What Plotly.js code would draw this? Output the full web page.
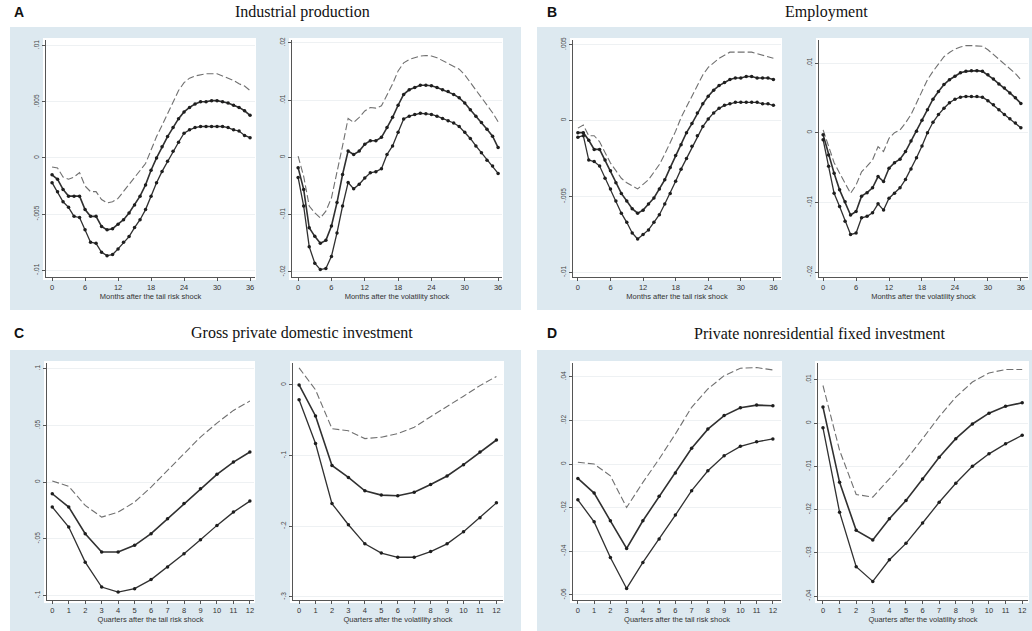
<!DOCTYPE html>
<html>
<head>
<meta charset="utf-8">
<script src="https://cdn.plot.ly/plotly-3.0.1.min.js"></script>
<style>html,body{margin:0;padding:0;background:#fff;}#chart{width:1032px;height:631px;}</style>
</head>
<body>
<div id="chart"></div>
<script>
// ---------- categories ----------
const months = [0,1,2,3,4,5,6,7,8,9,10,11,12,13,14,15,16,17,18,19,20,21,22,23,24,25,26,27,28,29,30,31,32,33,34,35,36];
const quarters = [0,1,2,3,4,5,6,7,8,9,10,11,12];
const monthTicks = [0,6,12,18,24,30,36];
const quarterTicks = [0,1,2,3,4,5,6,7,8,9,10,11,12];

const panelLetters = ["A","B","C","D"];
const panelTitles = ["Industrial production","Employment","Gross private domestic investment","Private nonresidential fixed investment"];
const xTitles = ["Months after the tail risk shock","Months after the volatility shock","Quarters after the tail risk shock","Quarters after the volatility shock"];

// ---------- y tick labels ----------
const ticksA1 = [0.01,0.005,0,-0.005,-0.01];
const labelsA1 = [".01",".005","0","-.005","-.01"];
const ticksA2 = [0.02,0.01,0,-0.01,-0.02];
const labelsA2 = [".02",".01","0","-.01","-.02"];
const ticksB1 = [0.005,0,-0.005,-0.01];
const labelsB1 = [".005","0","-.005","-.01"];
const ticksB2 = [0.01,0,-0.01,-0.02];
const labelsB2 = [".01","0","-.01","-.02"];
const ticksC1 = [0.1,0.05,0,-0.05,-0.1];
const labelsC1 = [".1",".05","0","-.05","-.1"];
const ticksC2 = [0,-0.1,-0.2,-0.3];
const labelsC2 = ["0","-.1","-.2","-.3"];
const ticksD1 = [0.04,0.02,0,-0.02,-0.04,-0.06];
const labelsD1 = [".04",".02","0","-.02","-.04","-.06"];
const ticksD2 = [0.01,0,-0.01,-0.02,-0.03,-0.04];
const labelsD2 = [".01","0","-.01","-.02","-.03","-.04"];

// ---------- A: Industrial production, tail risk shock ----------
const ipTailUpper = [-0.0008,-0.0009,-0.0017,-0.0019,-0.0017,-0.0013,-0.0025,-0.0030,-0.0030,-0.0037,-0.0040,-0.0039,-0.0036,-0.0030,-0.0024,-0.0018,-0.0012,-0.0005,0.0007,0.0019,0.0029,0.0039,0.0050,0.0060,0.0067,0.0071,0.0073,0.0074,0.0075,0.0075,0.0075,0.0073,0.0071,0.0069,0.0066,0.0064,0.0060];
const ipTailMid = [-0.0015,-0.0019,-0.0028,-0.0034,-0.0034,-0.0034,-0.0046,-0.0052,-0.0052,-0.0061,-0.0064,-0.0063,-0.0059,-0.0055,-0.0049,-0.0042,-0.0034,-0.0024,-0.0011,0.0000,0.0010,0.0019,0.0027,0.0035,0.0041,0.0045,0.0048,0.0050,0.0050,0.0051,0.0051,0.0050,0.0049,0.0047,0.0045,0.0042,0.0038];
const ipTailLower = [-0.0022,-0.0030,-0.0039,-0.0044,-0.0052,-0.0053,-0.0064,-0.0075,-0.0076,-0.0084,-0.0087,-0.0086,-0.0081,-0.0075,-0.0070,-0.0062,-0.0055,-0.0046,-0.0034,-0.0022,-0.0012,-0.0003,0.0006,0.0014,0.0022,0.0025,0.0027,0.0028,0.0028,0.0028,0.0028,0.0028,0.0027,0.0025,0.0024,0.0020,0.0018];

// ---------- A: Industrial production, volatility shock ----------
const ipVolUpper = [0.0002,-0.0033,-0.0085,-0.0097,-0.0106,-0.0094,-0.0071,-0.0027,0.0020,0.0068,0.0061,0.0070,0.0081,0.0087,0.0086,0.0090,0.0108,0.0128,0.0151,0.0165,0.0171,0.0174,0.0177,0.0178,0.0177,0.0174,0.0169,0.0165,0.0160,0.0154,0.0144,0.0131,0.0118,0.0105,0.0091,0.0078,0.0062];
const ipVolMid = [-0.0018,-0.0056,-0.0123,-0.0138,-0.0150,-0.0145,-0.0120,-0.0079,-0.0030,0.0011,0.0005,0.0011,0.0023,0.0029,0.0029,0.0035,0.0052,0.0070,0.0091,0.0110,0.0118,0.0122,0.0126,0.0126,0.0125,0.0122,0.0118,0.0115,0.0110,0.0104,0.0095,0.0083,0.0072,0.0061,0.0049,0.0037,0.0017];
const ipVolLower = [-0.0035,-0.0085,-0.0156,-0.0185,-0.0196,-0.0194,-0.0173,-0.0132,-0.0085,-0.0044,-0.0055,-0.0047,-0.0036,-0.0027,-0.0025,-0.0020,0.0005,0.0020,0.0044,0.0067,0.0072,0.0075,0.0077,0.0076,0.0075,0.0072,0.0068,0.0064,0.0060,0.0054,0.0044,0.0033,0.0020,0.0008,-0.0005,-0.0015,-0.0028];

// ---------- B: Employment, tail risk shock ----------
const empTailUpper = [-0.0005,-0.0003,-0.0010,-0.0010,-0.0014,-0.0021,-0.0028,-0.0033,-0.0038,-0.0041,-0.0043,-0.0045,-0.0042,-0.0039,-0.0034,-0.0029,-0.0022,-0.0015,-0.0007,0.0002,0.0009,0.0017,0.0024,0.0030,0.0035,0.0038,0.0041,0.0043,0.0045,0.0045,0.0045,0.0045,0.0045,0.0044,0.0043,0.0042,0.0041];
const empTailMid = [-0.0008,-0.0008,-0.0013,-0.0019,-0.0019,-0.0026,-0.0033,-0.0041,-0.0048,-0.0053,-0.0058,-0.0061,-0.0059,-0.0055,-0.0051,-0.0045,-0.0039,-0.0031,-0.0023,-0.0016,-0.0008,-0.0002,0.0005,0.0011,0.0016,0.0020,0.0023,0.0025,0.0027,0.0028,0.0028,0.0029,0.0029,0.0028,0.0028,0.0028,0.0027];
const empTailLower = [-0.0011,-0.0010,-0.0026,-0.0027,-0.0030,-0.0038,-0.0045,-0.0053,-0.0061,-0.0067,-0.0074,-0.0078,-0.0075,-0.0072,-0.0067,-0.0062,-0.0055,-0.0048,-0.0040,-0.0032,-0.0025,-0.0017,-0.0010,-0.0004,0.0001,0.0005,0.0008,0.0010,0.0011,0.0012,0.0012,0.0012,0.0012,0.0012,0.0011,0.0011,0.0010];

// ---------- B: Employment, volatility shock ----------
const empVolUpper = [0.0004,-0.0020,-0.0043,-0.0058,-0.0072,-0.0087,-0.0075,-0.0056,-0.0048,-0.0039,-0.0020,-0.0027,-0.0008,0.0000,0.0004,0.0014,0.0026,0.0043,0.0059,0.0076,0.0088,0.0099,0.0109,0.0115,0.0120,0.0123,0.0125,0.0125,0.0125,0.0124,0.0119,0.0112,0.0106,0.0099,0.0091,0.0085,0.0076];
const empVolMid = [-0.0003,-0.0032,-0.0058,-0.0082,-0.0099,-0.0118,-0.0113,-0.0091,-0.0086,-0.0079,-0.0063,-0.0070,-0.0051,-0.0043,-0.0038,-0.0027,-0.0012,0.0002,0.0018,0.0033,0.0048,0.0059,0.0069,0.0076,0.0081,0.0086,0.0088,0.0089,0.0089,0.0088,0.0083,0.0077,0.0070,0.0064,0.0057,0.0050,0.0042];
const empVolLower = [-0.0010,-0.0048,-0.0087,-0.0106,-0.0127,-0.0146,-0.0144,-0.0122,-0.0120,-0.0115,-0.0102,-0.0111,-0.0094,-0.0087,-0.0079,-0.0067,-0.0052,-0.0036,-0.0019,0.0000,0.0015,0.0026,0.0035,0.0043,0.0048,0.0051,0.0052,0.0052,0.0052,0.0051,0.0046,0.0040,0.0033,0.0026,0.0020,0.0014,0.0007];

// ---------- C: Gross private domestic investment ----------
const gpdiTailUpper = [0.0010,-0.0038,-0.0206,-0.0309,-0.0265,-0.0176,-0.0044,0.0103,0.0250,0.0397,0.0520,0.0632,0.0714];
const gpdiTailMid = [-0.0103,-0.0220,-0.0455,-0.0617,-0.0617,-0.0558,-0.0455,-0.0323,-0.0190,-0.0059,0.0068,0.0176,0.0265];
const gpdiTailLower = [-0.0220,-0.0397,-0.0706,-0.0926,-0.0970,-0.0940,-0.0860,-0.0750,-0.0632,-0.0508,-0.0382,-0.0265,-0.0168];
const gpdiVolUpper = [0.024,-0.007,-0.062,-0.065,-0.076,-0.074,-0.069,-0.060,-0.045,-0.031,-0.016,-0.001,0.012];
const gpdiVolMid = [0.000,-0.044,-0.114,-0.131,-0.150,-0.156,-0.157,-0.152,-0.141,-0.129,-0.113,-0.095,-0.078];
const gpdiVolLower = [-0.021,-0.083,-0.168,-0.198,-0.225,-0.238,-0.244,-0.244,-0.236,-0.225,-0.208,-0.188,-0.167];

// ---------- D: Private nonresidential fixed investment ----------
const pnfiTailUpper = [0.0008,0.0000,-0.0054,-0.0199,-0.0084,0.0023,0.0138,0.0260,0.0344,0.0405,0.0439,0.0442,0.0431];
const pnfiTailMid = [-0.0066,-0.0133,-0.0260,-0.0387,-0.0260,-0.0148,-0.0041,0.0072,0.0160,0.0222,0.0258,0.0270,0.0267];
const pnfiTailLower = [-0.0164,-0.0265,-0.0428,-0.0570,-0.0451,-0.0344,-0.0234,-0.0122,-0.0031,0.0038,0.0081,0.0102,0.0115];
const pnfiVolUpper = [0.0087,-0.0063,-0.0165,-0.0171,-0.0129,-0.0085,-0.0036,0.0015,0.0060,0.0095,0.0116,0.0124,0.0124];
const pnfiVolMid = [0.0037,-0.0137,-0.0248,-0.0270,-0.0221,-0.0179,-0.0129,-0.0079,-0.0036,-0.0002,0.0023,0.0039,0.0047];
const pnfiVolLower = [-0.0011,-0.0206,-0.0332,-0.0366,-0.0316,-0.0278,-0.0231,-0.0183,-0.0139,-0.0100,-0.0071,-0.0048,-0.0028];

// ---------- layout geometry (pixels) ----------
const W = 1032, H = 631;
const boxes = [
  {x0:46, x1:255, y0:40, y1:277},
  {x0:292,x1:502, y0:40, y1:277},
  {x0:573,x1:781, y0:40, y1:277},
  {x0:819,x1:1028,y0:40, y1:277},
  {x0:47, x1:254, y0:363,y1:600},
  {x0:293,x1:503, y0:363,y1:600},
  {x0:573,x1:781, y0:363,y1:600},
  {x0:818,x1:1028,y0:363,y1:600}
];
const subplots = [
  {x:months, up:ipTailUpper, mid:ipTailMid, lo:ipTailLower, yr:[-0.0106,0.0105], tv:ticksA1, tt:labelsA1, xr:[-1.1,36.9], xt:monthTicks, title:xTitles[0]},
  {x:months, up:ipVolUpper, mid:ipVolMid, lo:ipVolLower, yr:[-0.0209,0.0205], tv:ticksA2, tt:labelsA2, xr:[-1.1,36.7], xt:monthTicks, title:xTitles[1]},
  {x:months, up:empTailUpper, mid:empTailMid, lo:empTailLower, yr:[-0.0103,0.0053], tv:ticksB1, tt:labelsB1, xr:[-0.9,37.4], xt:monthTicks, title:xTitles[0]},
  {x:months, up:empVolUpper, mid:empVolMid, lo:empVolLower, yr:[-0.0207,0.0133], tv:ticksB2, tt:labelsB2, xr:[-0.75,37.3], xt:monthTicks, title:xTitles[1]},
  {x:quarters, up:gpdiTailUpper, mid:gpdiTailMid, lo:gpdiTailLower, yr:[-0.104,0.105], tv:ticksC1, tt:labelsC1, xr:[-0.32,12.25], xt:quarterTicks, title:xTitles[2]},
  {x:quarters, up:gpdiVolUpper, mid:gpdiVolMid, lo:gpdiVolLower, yr:[-0.3045,0.031], tv:ticksC2, tt:labelsC2, xr:[-0.37,12.4], xt:quarterTicks, title:xTitles[3]},
  {x:quarters, up:pnfiTailUpper, mid:pnfiTailMid, lo:pnfiTailLower, yr:[-0.0623,0.0463], tv:ticksD1, tt:labelsD1, xr:[-0.3,12.5], xt:quarterTicks, title:xTitles[2]},
  {x:quarters, up:pnfiVolUpper, mid:pnfiVolMid, lo:pnfiVolLower, yr:[-0.0409,0.0139], tv:ticksD2, tt:labelsD2, xr:[-0.3,12.35], xt:quarterTicks, title:xTitles[3]}
];

const lineCol = '#303030';
const traces = [];
const layout = {
  width: W, height: H,
  margin: {l:0, r:0, t:0, b:0},
  paper_bgcolor: '#ffffff',
  plot_bgcolor: 'rgba(0,0,0,0)',
  showlegend: false,
  shapes: [],
  annotations: []
};

// blue panel backgrounds
const panels = [
  {x0:10, x1:521, y0:27, y1:310},
  {x0:537,x1:1032,y0:27, y1:310},
  {x0:10, x1:521, y0:350,y1:631},
  {x0:537,x1:1032,y0:350,y1:631}
];
panels.forEach(p => layout.shapes.push({type:'rect', xref:'paper', yref:'paper', layer:'below',
  x0:p.x0/W, x1:p.x1/W, y0:1-p.y1/H, y1:1-p.y0/H, fillcolor:'#dde9f0', line:{width:0}}));
boxes.forEach(b => layout.shapes.push({type:'rect', xref:'paper', yref:'paper', layer:'below',
  x0:(b.x0-3)/W, x1:(b.x1+1)/W, y0:1-(b.y1+3)/H, y1:1-(b.y0-2)/H, fillcolor:'#ffffff', line:{width:0}}));

subplots.forEach((s, i) => {
  const n = i + 1;
  const xa = 'x' + (n === 1 ? '' : n), ya = 'y' + (n === 1 ? '' : n);
  const b = boxes[i];
  traces.push({x:s.x, y:s.up, xaxis:xa, yaxis:ya, mode:'lines', type:'scatter',
    line:{color:'#707070', width:1.1, dash:'7px,3px'}, hoverinfo:'skip'});
  traces.push({x:s.x, y:s.mid, xaxis:xa, yaxis:ya, mode:'lines+markers', type:'scatter',
    line:{color:lineCol, width:1.6}, marker:{size:3.5, color:'#1e1e1e'}, hoverinfo:'skip'});
  traces.push({x:s.x, y:s.lo, xaxis:xa, yaxis:ya, mode:'lines+markers', type:'scatter',
    line:{color:lineCol, width:1.3}, marker:{size:3.5, color:'#1e1e1e'}, hoverinfo:'skip'});
  const xKey = 'xaxis' + (n === 1 ? '' : n), yKey = 'yaxis' + (n === 1 ? '' : n);
  layout[xKey] = {
    domain:[b.x0/W, b.x1/W], anchor:ya, range:s.xr, tickvals:s.xt,
    showline:true, linecolor:'#555', linewidth:1, ticks:'outside', ticklen:3, tickcolor:'#555',
    tickfont:{family:'Liberation Sans, Arial, sans-serif', size:7.5, color:'#333'},
    showgrid:false, zeroline:false, fixedrange:true, automargin:false,
    title:{text:s.title, font:{family:'Liberation Sans, Arial, sans-serif', size:7.5, color:'#333'}, standoff:0}
  };
  layout[yKey] = {
    domain:[1-b.y1/H, 1-b.y0/H], anchor:xa, range:s.yr, tickvals:s.tv, ticktext:s.tt, tickangle:-90,
    showline:true, linecolor:'#555', linewidth:1, ticks:'outside', ticklen:3, tickcolor:'#555',
    tickfont:{family:'Liberation Sans, Arial, sans-serif', size:6.5, color:'#444'},
    showgrid:true, gridcolor:'#eef1f3', gridwidth:1, zeroline:false, fixedrange:true, automargin:false
  };
});

// panel letters and titles
const letterPos = [{x:12,y:12},{x:545,y:12},{x:12,y:333},{x:545,y:333}];
const titlePos = [{x:302,y:12},{x:826,y:12},{x:302,y:333},{x:820,y:333}];
panelLetters.forEach((l, i) => {
  layout.annotations.push({text:'<b>'+l+'</b>', xref:'paper', yref:'paper', x:letterPos[i].x/W, y:1-letterPos[i].y/H,
    xanchor:'left', yanchor:'middle', showarrow:false, font:{family:'Liberation Sans, Arial, sans-serif', size:14, color:'#111'}});
  layout.annotations.push({text:panelTitles[i], xref:'paper', yref:'paper', x:titlePos[i].x/W, y:1-titlePos[i].y/H,
    xanchor:'center', yanchor:'middle', showarrow:false, font:{family:'Liberation Serif, DejaVu Serif, serif', size:16, color:'#111'}});
});

Plotly.newPlot('chart', traces, layout, {staticPlot:true, displayModeBar:false});
</script>
</body>
</html>
